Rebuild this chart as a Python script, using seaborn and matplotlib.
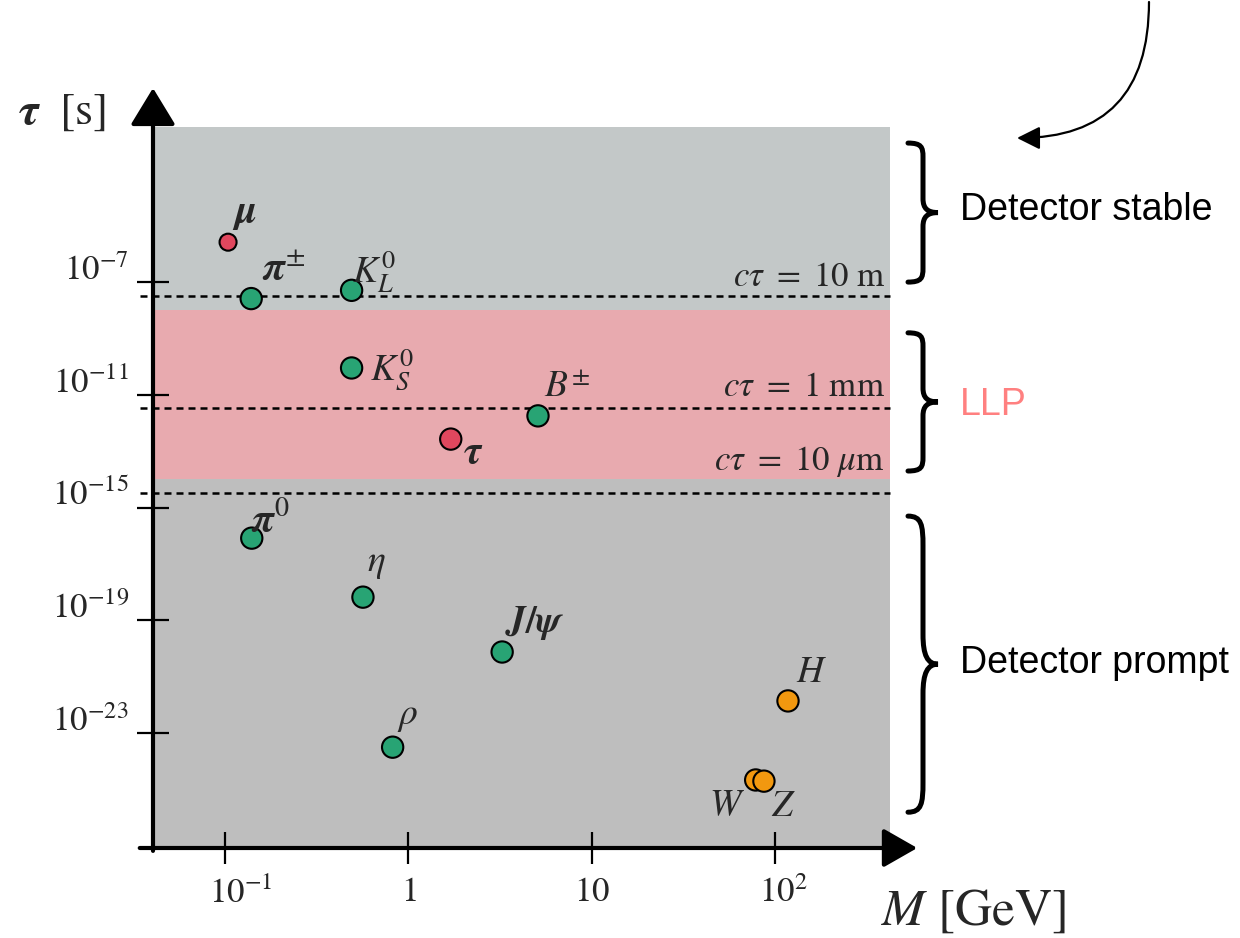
import numpy as np
import pandas as pd
import matplotlib
matplotlib.use("Agg")
import matplotlib.pyplot as plt
import seaborn as sns
from matplotlib.path import Path
from matplotlib.patches import PathPatch

# ---------------- data ----------------
particles = ["mu", "pi_pm", "K_L", "K_S", "B_pm", "tau", "pi0", "eta", "Jpsi", "rho", "H", "W", "Z"]
labels = [r"$\boldsymbol{\mu}$", r"$\boldsymbol{\pi}^{\pm}$", r"$K_L^0$", r"$K_S^0$", r"$B^{\pm}$",
          r"$\boldsymbol{\tau}$", r"$\boldsymbol{\pi}^0$", r"$\eta$", r"$\boldsymbol{J/\psi}$", r"$\rho$",
          r"$H$", r"$W$", r"$Z$"]
mass_gev = [0.104, 0.139, 0.49, 0.49, 5.08, 1.70, 0.14, 0.565, 3.24, 0.82, 117, 78, 86.5]
lifetime_s = [2.6e-6, 2.6e-8, 5.1e-8, 9.0e-11, 1.8e-12, 2.7e-13, 8.3e-17, 6.7e-19, 7.6e-21,
              3.2e-24, 1.4e-22, 2.2e-25, 2.0e-25]
group = ["lepton", "meson", "meson", "meson", "meson", "lepton", "meson", "meson", "meson", "meson",
         "boson", "boson", "boson"]
marker_kind = ["small"] + ["normal"] * 12

ctau_tau = [3.3e-8, 3.3e-12, 3.3e-15]
ctau_labels = [r"$c\tau\ =\ 10\ \mathrm{m}$", r"$c\tau\ =\ 1\ \mathrm{mm}$", r"$c\tau\ =\ 10\ \mu\mathrm{m}$"]

region_bounds = [1e-8, 1e-14]  # stable above, LLP between, prompt below

xtick_vals = [0.1, 1, 10, 100]
xtick_labels = [r"$10^{-1}$", r"$1$", r"$10$", r"$10^{2}$"]
ytick_vals = [1e-7, 1e-11, 1e-15, 1e-19, 1e-23]
ytick_labels = [r"$10^{-7}$", r"$10^{-11}$", r"$10^{-15}$", r"$10^{-19}$", r"$10^{-23}$"]

brace_ranges = [(10 ** -2.07, 1e-7), (10 ** -8.8, 10 ** -13.7), (10 ** -15.3, 10 ** -25.8)]
region_texts = ["Detector stable", "LLP", "Detector prompt"]

xlim = (10 ** -1.392, 10 ** 2.624)
ylim = (10 ** -27.07, 10 ** -1.50)

# ---------------- layout / style (not data) ----------------
label_offsets = {  # pixels: dx right, dy up
    "mu": (16, 29), "pi_pm": (32, 28), "K_L": (22, 19), "K_S": (40, -2), "B_pm": (29, 28),
    "tau": (22, -14), "pi0": (19, 18), "eta": (13, 34), "Jpsi": (33, 29), "rho": (15, 31),
    "H": (24, 28), "W": (-29, -26), "Z": (20, -25),
}
bold_big = {"mu", "pi_pm", "tau", "pi0"}
ctau_label_dy = [10, 12, 23]
region_text_colors = ["black", "#ff8080", "black"]
text_y = [210, 405, 663]

sns.set_theme(style="white")
plt.rcParams["font.family"] = ["STIXGeneral", "DejaVu Serif"]
plt.rcParams["mathtext.fontset"] = "stix"

W_PX, H_PX = 1240, 938
fig = plt.figure(figsize=(12.4, 9.38), dpi=100)
ax = fig.add_axes([153 / W_PX, 1 - 848 / H_PX, 737 / W_PX, 721 / H_PX])
ax.set_xscale("log")
ax.set_yscale("log")
ax.set_xlim(*xlim)
ax.set_ylim(*ylim)

top_gray = "#c3c8c8"
pink = "#e8aaaf"
bottom_gray = "#bebebe"
ax.axhspan(region_bounds[0], ylim[1], color=top_gray, lw=0, zorder=0)
ax.axhspan(region_bounds[1], region_bounds[0], color=pink, lw=0, zorder=0)
ax.axhspan(ylim[0], region_bounds[1], color=bottom_gray, lw=0, zorder=0)

df = pd.DataFrame({"particle": particles, "mass": mass_gev, "lifetime": lifetime_s,
                   "group": group, "kind": marker_kind})
palette = {"lepton": "#e0475e", "meson": "#28a474", "boson": "#f2980f"}
sns.scatterplot(data=df, x="mass", y="lifetime", hue="group", palette=palette,
                size="kind", sizes={"small": 150, "normal": 235},
                edgecolor="black", linewidth=1.5, legend=False, ax=ax, zorder=5)

for p, m, t, lab in zip(particles, mass_gev, lifetime_s, labels):
    dx, dy = label_offsets[p]
    ax.annotate(lab, xy=(m, t), xytext=(dx, dy), textcoords="offset pixels",
                ha="center", va="center", fontsize=29 if p in bold_big else 27, zorder=6)

# dashed lines
for t, lab, dy in zip(ctau_tau, ctau_labels, ctau_label_dy):
    ax.plot([-0.018, 1.0], [t, t], transform=ax.get_yaxis_transform(), ls=(0, (2.8, 2.0)),
            color="black", lw=1.8, clip_on=False, zorder=3)
    ax.annotate(lab, xy=(0.993, t), xycoords=ax.get_yaxis_transform(), xytext=(0, dy),
                textcoords="offset pixels", ha="right", va="baseline", fontsize=25, zorder=4)

# axes & ticks
for s in ax.spines.values():
    s.set_visible(False)
ax.grid(False)
ax.minorticks_off()
ax.set_xticks(xtick_vals)
ax.set_yticks(ytick_vals)
ax.tick_params(axis="both", which="major", direction="inout", length=23, width=1.6,
               colors="black", left=True, bottom=True, labelleft=False, labelbottom=False)
ax.set_xlabel("")
ax.set_ylabel("")

for v, lab in zip(ytick_vals, ytick_labels):
    ax.annotate(lab, xy=(0, v), xycoords=ax.get_yaxis_transform(), xytext=(-24, 11),
                textcoords="offset pixels", ha="right", va="center", fontsize=25,
                annotation_clip=False)
for v, lab in zip(xtick_vals, xtick_labels):
    sup = "^" in lab
    ax.annotate(lab, xy=(v, 0), xycoords=ax.get_xaxis_transform(), xytext=(-16 if sup else 0, -29),
                textcoords="offset pixels", ha="left" if sup else "center", va="top", fontsize=25,
                annotation_clip=False)

# axis arrows
ax.annotate("", xy=(0, 1.054), xytext=(0, -0.004), xycoords="axes fraction",
            arrowprops=dict(arrowstyle="-|>,head_length=0.46,head_width=0.28", mutation_scale=50,
                            lw=3, color="black", shrinkA=0, shrinkB=0), annotation_clip=False)
ax.annotate("", xy=(1.037, 0), xytext=(-0.018, 0), xycoords="axes fraction",
            arrowprops=dict(arrowstyle="-|>,head_length=0.42,head_width=0.24", mutation_scale=50,
                            lw=3, color="black", shrinkA=0, shrinkB=0), annotation_clip=False)

fig.text(62 / W_PX, 1 - 113 / H_PX, r"$\boldsymbol{\tau}\ $ [s]", fontsize=33, ha="center", va="center")
fig.text(974 / W_PX, 1 - 912 / H_PX, r"$M$ [GeV]", fontsize=37, ha="center", va="center")

# braces
ly0, ly1 = np.log10(ylim[0]), np.log10(ylim[1])


def yfrac(v):
    return (np.log10(v) - ly0) / (ly1 - ly0)


bx0 = (908 - 153) / 737
bw = 30 / 737
for top, bot in brace_ranges:
    yt, yb = yfrac(top), yfrac(bot)
    h = yt - yb

    def P(u, v):
        return (bx0 + u * bw, yb + v * h)

    verts = [P(0, 1), P(0.45, 1), P(0.5, 0.97), P(0.5, 0.9),
             P(0.5, 0.6),
             P(0.5, 0.53), P(0.65, 0.5), P(1, 0.5),
             P(0.65, 0.5), P(0.5, 0.47), P(0.5, 0.4),
             P(0.5, 0.1),
             P(0.5, 0.03), P(0.45, 0), P(0, 0)]
    codes = [Path.MOVETO, Path.CURVE4, Path.CURVE4, Path.CURVE4,
             Path.LINETO,
             Path.CURVE4, Path.CURVE4, Path.CURVE4,
             Path.CURVE4, Path.CURVE4, Path.CURVE4,
             Path.LINETO,
             Path.CURVE4, Path.CURVE4, Path.CURVE4]
    ax.add_patch(PathPatch(Path(verts, codes), transform=ax.transAxes, fill=False,
                           lw=3.6, edgecolor="black", clip_on=False, capstyle="round"))

for txt, c, y in zip(region_texts, region_text_colors, text_y):
    fig.text(960 / W_PX, 1 - y / H_PX, txt, fontsize=27, color=c, ha="left", va="center",
             family=["Liberation Sans", "DejaVu Sans"])

# curved arrow at top right
ax.annotate("", xy=(1017, H_PX - 138), xytext=(1149, H_PX - 2), xycoords="figure pixels",
            arrowprops=dict(arrowstyle="-|>,head_length=0.7,head_width=0.35", mutation_scale=20,
                            lw=1.6, color="black", shrinkA=0, shrinkB=0,
                            connectionstyle="angle3,angleA=90,angleB=0"), annotation_clip=False)

fig.savefig("out.png", dpi=100)
